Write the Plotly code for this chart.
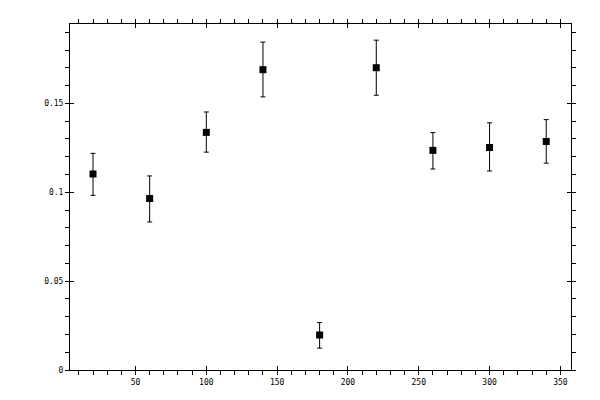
import plotly.graph_objects as go

# data
x_vals = [20, 60, 100, 140, 180, 220, 260, 300, 340]
y_vals = [0.1103, 0.0965, 0.1337, 0.1690, 0.0197, 0.1701, 0.1236, 0.1252, 0.1286]
err_plus = [0.0116, 0.0127, 0.0115, 0.0155, 0.0070, 0.0155, 0.0100, 0.0139, 0.0123]
err_minus = [0.0120, 0.0132, 0.0111, 0.0153, 0.0074, 0.0155, 0.0105, 0.0132, 0.0122]

x_range = [3.75, 357.5]
y_range = [0, 0.1947]

tick_font = dict(family='DejaVu Sans Mono', size=8, color='#000000')

fig = go.Figure(go.Scatter(
    x=x_vals,
    y=y_vals,
    mode='markers',
    marker=dict(symbol='square', size=7, color='#000000'),
    error_y=dict(type='data', symmetric=False, array=err_plus, arrayminus=err_minus,
                 color='#000000', thickness=1, width=2.5),
    showlegend=False))

# invisible trace so the inside-tick overlay axes exist
fig.add_trace(go.Scatter(x=[], y=[], xaxis='x2', yaxis='y2', showlegend=False))

# main axes: outside major + minor ticks on all four sides
common = dict(showline=True, linewidth=1, linecolor='#000000', mirror='allticks',
              ticks='outside', ticklen=4, tickwidth=1, tickcolor='#000000',
              showgrid=False, zeroline=False, tickfont=tick_font)

# page has an 8px body margin, so the plot margins are trimmed by that much
fig.update_layout(
    width=600, height=400,
    margin=dict(l=62, r=37, t=11, b=38),
    paper_bgcolor='#ffffff',
    plot_bgcolor='#ffffff',
    xaxis=dict(range=x_range, dtick=50, tick0=0,
               minor=dict(dtick=10, ticks='outside', ticklen=4, tickwidth=1, tickcolor='#000000'),
               **common),
    yaxis=dict(range=y_range, dtick=0.05, tick0=0,
               minor=dict(dtick=0.01, ticks='outside', ticklen=4, tickwidth=1, tickcolor='#000000'),
               **common),
    # overlay axes: major ticks pointing inside so they cross the frame
    xaxis2=dict(range=x_range, dtick=50, tick0=0, overlaying='x',
                showline=False, mirror='allticks', ticks='inside', ticklen=4, tickwidth=1,
                tickcolor='#000000', showticklabels=False, showgrid=False, zeroline=False),
    yaxis2=dict(range=y_range, dtick=0.05, tick0=0, overlaying='y',
                showline=False, mirror='allticks', ticks='inside', ticklen=4, tickwidth=1,
                tickcolor='#000000', showticklabels=False, showgrid=False, zeroline=False),
)

fig.write_html("out.html")
